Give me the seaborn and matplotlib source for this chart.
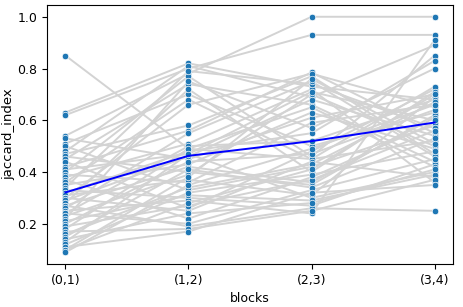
import matplotlib
matplotlib.use("Agg")
import matplotlib.pyplot as plt
import seaborn as sns
import pandas as pd

blocks = ["(0,1)", "(1,2)", "(2,3)", "(3,4)"]

b01 = [0.85, 0.63, 0.62, 0.54, 0.53, 0.51, 0.50, 0.48, 0.47, 0.46,
       0.45, 0.44, 0.42, 0.41, 0.40, 0.39, 0.38, 0.37, 0.36, 0.35,
       0.34, 0.33, 0.32, 0.31, 0.30, 0.30, 0.29, 0.28, 0.27, 0.27,
       0.26, 0.25, 0.24, 0.24, 0.23, 0.22, 0.21, 0.20, 0.19, 0.18,
       0.17, 0.16, 0.15, 0.14, 0.13, 0.12, 0.11, 0.10, 0.10, 0.09]
b12 = [0.49, 0.82, 0.80, 0.78, 0.45, 0.70, 0.33, 0.81, 0.58, 0.40,
       0.74, 0.26, 0.56, 0.47, 0.77, 0.36, 0.51, 0.22, 0.68, 0.43,
       0.79, 0.30, 0.48, 0.37, 0.66, 0.25, 0.46, 0.72, 0.19, 0.42,
       0.55, 0.29, 0.50, 0.20, 0.39, 0.75, 0.31, 0.44, 0.27, 0.49,
       0.18, 0.34, 0.41, 0.24, 0.47, 0.32, 0.17, 0.38, 0.28, 0.35]
b23 = [0.45, 0.73, 0.93, 1.00, 0.61, 0.50, 0.42, 0.69, 0.77, 0.35,
       0.66, 0.48, 0.785, 0.30, 0.46, 0.59, 0.72, 0.38, 0.45, 0.63,
       0.74, 0.27, 0.55, 0.31, 0.78, 0.44, 0.68, 0.40, 0.26, 0.36,
       0.75, 0.24, 0.52, 0.33, 0.70, 0.57, 0.29, 0.47, 0.37, 0.65,
       0.25, 0.43, 0.34, 0.28, 0.71, 0.39, 0.32, 0.76, 0.41, 0.49]
b34 = [0.52, 0.68, 0.93, 1.00, 0.70, 0.63, 0.58, 0.89, 0.47, 0.62,
       0.44, 0.72, 0.55, 0.40, 0.85, 0.66, 0.36, 0.59, 0.73, 0.49,
       0.57, 0.43, 0.83, 0.69, 0.65, 0.38, 0.54, 0.71, 0.25, 0.61,
       0.46, 0.91, 0.68, 0.45, 0.50, 0.80, 0.39, 0.64, 0.56, 0.42,
       0.37, 0.67, 0.53, 0.41, 0.60, 0.48, 0.35, 0.51, 0.70, 0.66]

series = [b01, b12, b23, b34]
rows = []
for blk, vals in zip(blocks, series):
    for subj, v in enumerate(vals):
        rows.append({"subject": subj, "blocks": blk, "jaccard_index": v})
df = pd.DataFrame(rows)

fig, ax = plt.subplots(figsize=(4.64, 3.07), dpi=100)
fig.subplots_adjust(left=47/464, right=453/464, top=1-5/307, bottom=1-264/307)

sns.lineplot(data=df, x="blocks", y="jaccard_index", units="subject",
             estimator=None, color="lightgray", linewidth=1.4, ax=ax, zorder=1)
sns.scatterplot(data=df, x="blocks", y="jaccard_index", s=22,
                color="#1f77b4", edgecolor="white", linewidth=0.5, ax=ax, zorder=2)
sns.lineplot(data=df, x="blocks", y="jaccard_index", errorbar=None,
             color="blue", linewidth=1.4, ax=ax, zorder=3)

ax.tick_params(labelsize=9)
ax.set_xlabel("blocks", fontsize=9)
ax.set_ylabel("jaccard_index", fontsize=9.5)
ax.yaxis.set_label_coords(-0.078, 0.5)
ax.xaxis.set_label_coords(0.5, -0.11)
fig.savefig("out.png", dpi=100)
